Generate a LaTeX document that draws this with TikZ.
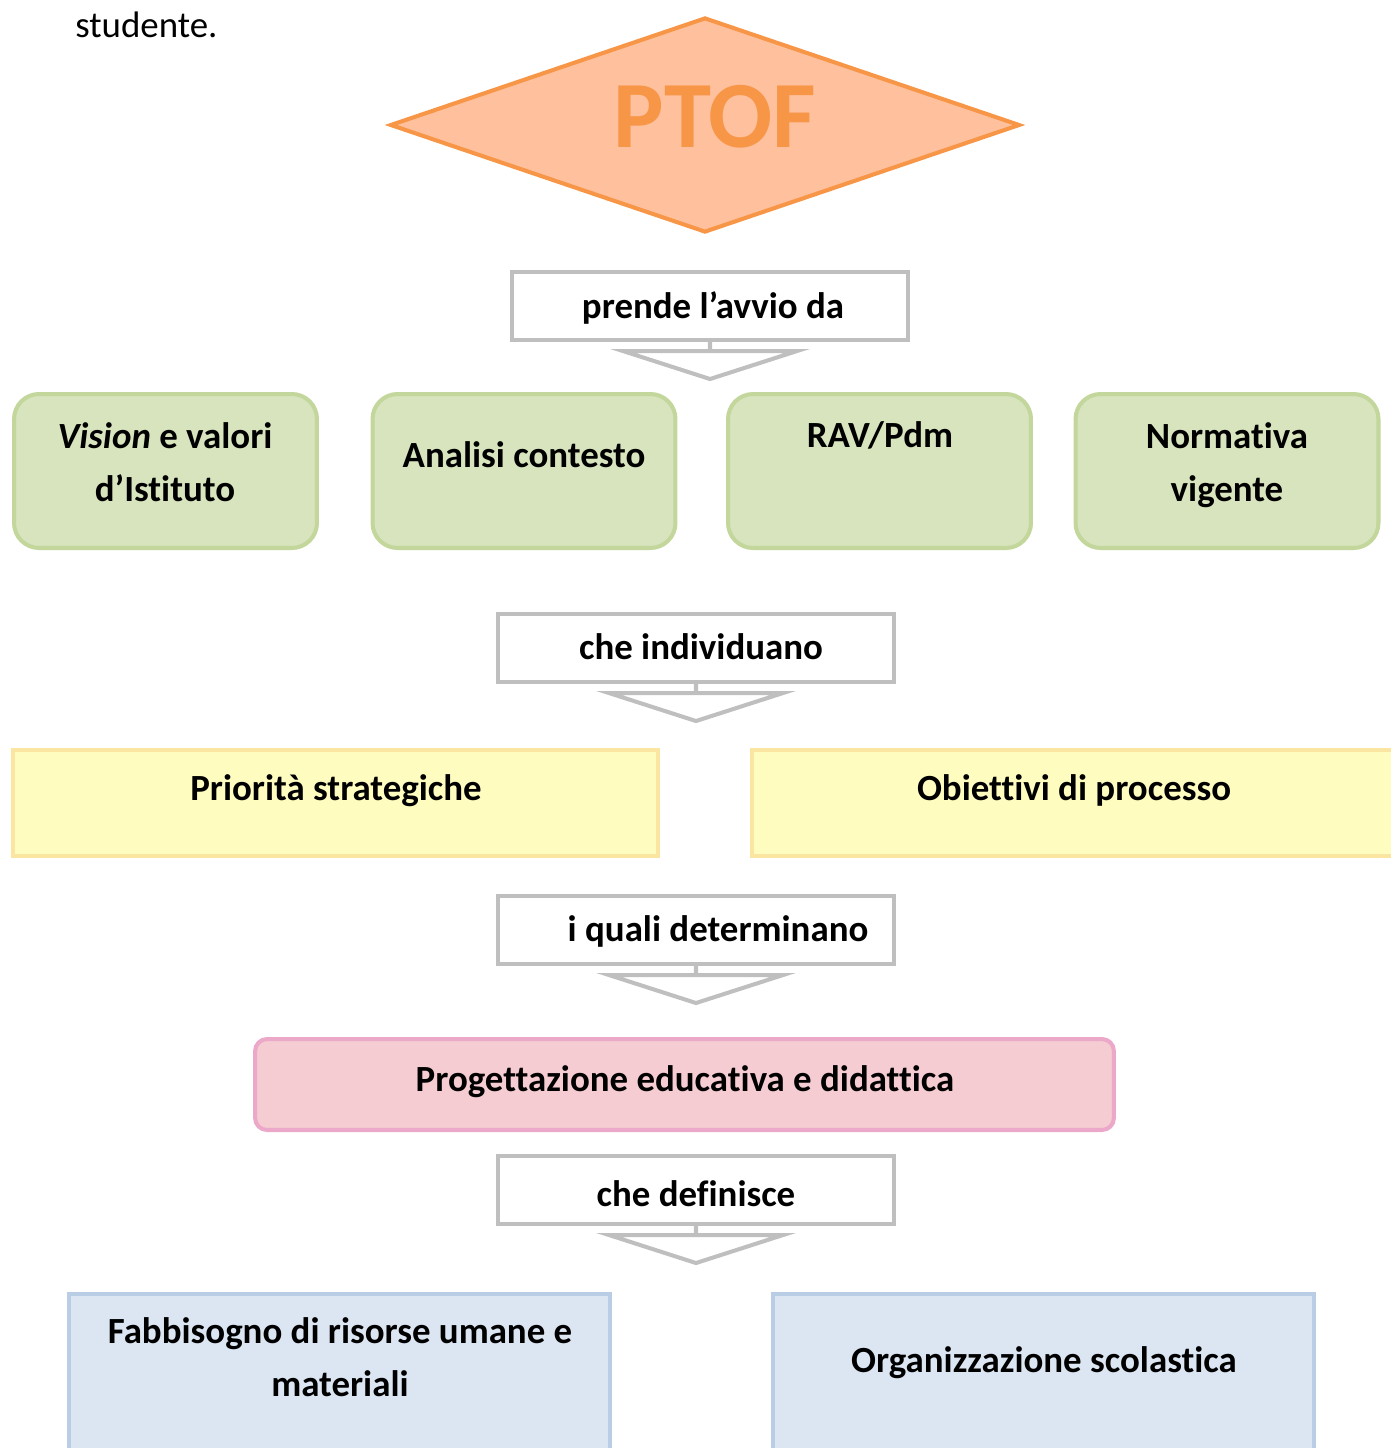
\documentclass[tikz,border=0pt]{standalone}
\usepackage{fontspec}
\setmainfont{Carlito}[Ligatures={NoCommon},RawFeature={-calt;-clig;-liga}]
\usetikzlibrary{shapes.geometric}
\definecolor{c0}{RGB}{247,150,70}
\definecolor{c0f}{RGB}{255,192,158}
\definecolor{c1}{RGB}{191,191,191}
\definecolor{c2}{RGB}{195,214,155}
\definecolor{c2f}{RGB}{215,228,189}
\definecolor{c3}{RGB}{250,230,160}
\definecolor{c3f}{RGB}{255,252,192}
\definecolor{c4}{RGB}{236,168,200}
\definecolor{c4f}{RGB}{245,204,210}
\definecolor{c5}{RGB}{185,205,229}
\definecolor{c5f}{RGB}{220,230,242}
\tikzset{%
  box/.style={rectangle,draw=#1,fill=#1f,line width=2.3pt,inner sep=0pt},
  box/.default=c2,
  lab/.style={rectangle,draw=c1,fill=white,line width=2.3pt,inner sep=0pt,
    minimum width=7.92cm,minimum height=1.36cm},
  txt/.style={font=\bfseries\fontsize{21}{30}\selectfont,align=center,
    inner sep=0pt,anchor=base}
}
\NewDocumentCommand\giu{m}{%
  \draw[c1,line width=2.3pt,line join=miter]
    (#1.south) -- ++(0,9) ++(-87,0) -- ++(174,0) -- ++(-87,28) -- cycle;
}

\begin{document}
\begin{tikzpicture}[x=0.02cm,y=-0.02cm]
  \useasboundingbox (0,0) rectangle (1391,1448);
  \node[font=\fontsize{21}{30}\selectfont,inner sep=0pt,anchor=base west] (stu) at (75,37) {studente.};
  %%
  \node[diamond,draw=c0,fill=c0f,line width=2.3pt,inner sep=0pt,
    minimum width=12.6cm,minimum height=4.3cm] (ptof) at (705,125) {};
  \node[txt,text=c0,font=\bfseries\fontsize{54}{60}\selectfont] (tptof) at (715,147) {PTOF};
  %%
  \node[lab] (l0) at (710,306) {};
  \node[txt] (t0) at (713,318) {prende l’avvio da};
  \giu{l0}
  %%
  \node[box,rounded corners=0.5cm,minimum width=6.06cm,minimum height=3.08cm] (g0) at (165.5,471) {};
  \node[box,rounded corners=0.5cm,minimum width=6.06cm,minimum height=3.08cm] (g1) at (524,471) {};
  \node[box,rounded corners=0.5cm,minimum width=6.06cm,minimum height=3.08cm] (g2) at (879.5,471) {};
  \node[box,rounded corners=0.5cm,minimum width=6.06cm,minimum height=3.08cm] (g3) at (1227,471) {};
  \node[txt] (tg0) at (165,501) {\textit{Vision} e valori\\d’Istituto};
  \node[txt] (tg1) at (524,467) {Analisi contesto};
  \node[txt] (tg2) at (880,447) {RAV/Pdm};
  \node[txt] (tg3) at (1227,501) {Normativa\\vigente};
  %%
  \node[lab] (l1) at (696,648) {};
  \node[txt] (t1) at (701,659) {che individuano};
  \giu{l1}
  %%
  \node[box=c3,minimum width=12.9cm,minimum height=2.12cm] (y0) at (335.5,803) {};
  \node[box=c3,minimum width=13.12cm,minimum height=2.12cm] (y1) at (1080,803) {};
  \node[txt] (ty0) at (336,800) {Priorità strategiche};
  \node[txt] (ty1) at (1074,800) {Obiettivi di processo};
  %%
  \node[lab] (l2) at (696,930) {};
  \node[txt] (t2) at (718,941) {i quali determinano};
  \giu{l2}
  %%
  \node[box=c4,rounded corners=0.24cm,minimum width=17.18cm,minimum height=1.82cm] (p0) at (684.5,1084.5) {};
  \node[txt] (tp0) at (685,1091) {Progettazione educativa e didattica};
  %%
  \node[lab] (l3) at (696,1190) {};
  \node[txt] (t3) at (696,1206) {che definisce};
  \giu{l3}
  %%
  \node[box=c5,minimum width=10.82cm,minimum height=4.12cm] (b0) at (339.5,1397) {};
  \node[box=c5,minimum width=10.82cm,minimum height=4.12cm] (b1) at (1043.5,1397) {};
  \node[txt] (tb0) at (340,1396) {Fabbisogno di risorse umane e\\materiali};
  \node[txt] (tb1) at (1044,1372) {Organizzazione scolastica};
\end{tikzpicture}
\end{document}
